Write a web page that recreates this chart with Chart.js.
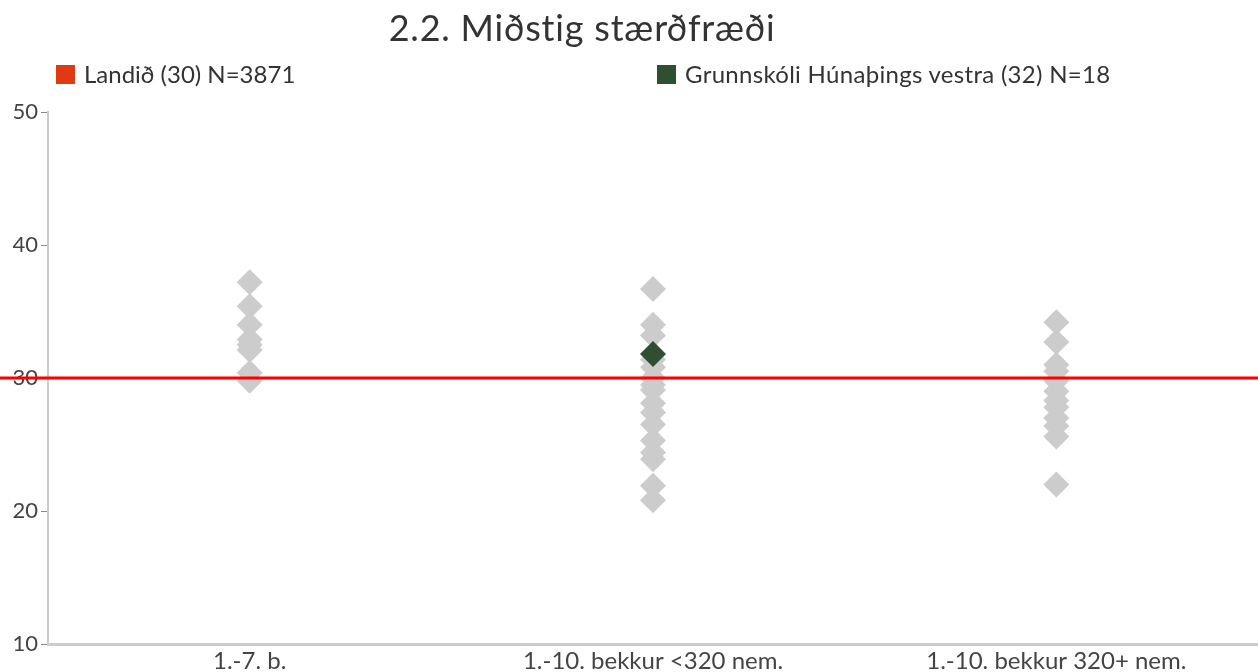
<!DOCTYPE html>
<html>
<head>
<meta charset="utf-8">
<script src="https://cdn.jsdelivr.net/npm/chart.js@4/dist/chart.umd.min.js"></script>
<style>
  body { margin: 0; background: #fff; font-family: Lato, "Open Sans", sans-serif; overflow: hidden; }
  #wrap { position: relative; width: 1258px; height: 672px; }
  #myChart { display: block; }
  #titill { position: absolute; left: 0; width: 1164px; top: 5px; text-align: center; font-size: 36px; color: #333; letter-spacing: 0.8px; }
  .leg { position: absolute; top: 59px; font-size: 24px; color: #333; }
  .leg span.box { display: inline-block; width: 19px; height: 19px; vertical-align: -1px; margin-right: 9px; }
</style>
</head>
<body>
<div id="wrap">
  <div id="titill">2.2. Miðstig stærðfræði</div>
  <div class="leg" style="left:56px"><span class="box" style="background:#E03A13"></span>Landið (30) N=3871</div>
  <div class="leg" style="left:657px;letter-spacing:0.3px"><span class="box" style="background:#2E5030"></span>Grunnskóli Húnaþings vestra (32) N=18</div>
  <canvas id="myChart" width="1258" height="672"></canvas>
</div>
<script>
var flokkar = ['1.-7. b.', '1.-10. bekkur <320 nem.', '1.-10. bekkur 320+ nem.'];

// adrir skolar, eitt gildi a hvern skola
var skolar17 = [37.2, 35.4, 34.0, 32.9, 32.5, 32.1, 30.4, 29.8];
var skolarMinni = [36.7, 34.0, 33.2, 31.4, 30.8, 30.0, 29.5, 29.1, 28.1, 27.4, 26.5, 25.3, 24.4, 23.9, 21.9, 20.8];
var skolarStaerri = [34.2, 32.7, 31.0, 30.5, 29.8, 29.0, 28.3, 27.8, 27.0, 26.4, 25.6, 22.0];

var skolinn = 31.8;          // Grunnskóli Húnaþings vestra
var skolinnFlokkur = 1;
var landid = 30;             // landsmedaltal

var yTicks = [10, 20, 30, 40, 50];

function punktar(flokkur, gildi) {
    var out = [];
    for (var i = 0; i < gildi.length; i++) {
        out.push({ x: flokkar[flokkur], y: gildi[i] });
    }
    return out;
}

var adrir = punktar(0, skolar17).concat(punktar(1, skolarMinni)).concat(punktar(2, skolarStaerri));

// rauda linan yfir alla breiddina
var landLina = {
    id: 'landLina',
    afterDatasetsDraw: function(chart) {
        var y = chart.scales.y.getPixelForValue(landid);
        var ctx = chart.ctx;
        ctx.save();
        ctx.strokeStyle = '#FF0000';
        ctx.lineWidth = 3;
        ctx.beginPath();
        ctx.moveTo(0, y);
        ctx.lineTo(chart.width, y);
        ctx.stroke();
        ctx.restore();
    }
};

var canvas = document.getElementById('myChart').getContext('2d');
var chart = new Chart(canvas, {
    type: 'scatter',
    data: {
        datasets: [ {
            label: 'Grunnskóli Húnaþings vestra',
            data: punktar(skolinnFlokkur, [skolinn]),
            backgroundColor: '#2E5030',
            borderWidth: 0,
            pointStyle: 'rectRot',
            pointRadius: 13,
            order: 0
        }, {
            label: 'Aðrir skólar',
            data: adrir,
            backgroundColor: '#CCCCCC',
            borderWidth: 0,
            pointStyle: 'rectRot',
            pointRadius: 13,
            order: 1
        } ]
    },
    plugins: [landLina],
    options: {
        responsive: false,
        animation: false,
        layout: { autoPadding: false, padding: { top: 112, right: 0, left: 0, bottom: 0 } },
        plugins: {
            legend: { display: false },
            title: { display: false },
            tooltip: { enabled: false }
        },
        scales: {
            x: {
                type: 'category',
                labels: flokkar,
                offset: true,
                grid: { display: false, drawTicks: false },
                border: { color: '#CCCCCC', width: 3 },
                ticks: { color: '#444', padding: 3, font: { family: 'Lato', size: 24 } },
                afterFit: function(axis) {
                    axis.height = 28;
                    axis.paddingLeft = 0;
                    axis.paddingRight = 0;
                }
            },
            y: {
                min: 10,
                max: 50,
                afterBuildTicks: function(axis) {
                    axis.ticks = yTicks.map(function(v) { return { value: v }; });
                },
                grid: { drawOnChartArea: false, tickLength: 7, color: '#888' },
                border: { color: '#CCCCCC', width: 2 },
                ticks: { color: '#444', padding: 3, font: { family: 'Lato', size: 22 } },
                afterFit: function(axis) { axis.width = 48; }
            }
        }
    }
});
</script>
</body>
</html>
